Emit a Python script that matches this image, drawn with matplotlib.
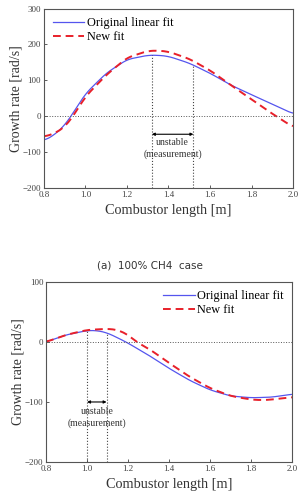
import numpy as np
import matplotlib.pyplot as plt

# datos (a) 100% CH4
x_a = [0.8, 0.85, 0.9, 0.93, 1.0, 1.1, 1.2, 1.3, 1.35, 1.4, 1.5, 1.6, 1.7, 1.8, 1.9, 2.0]
orig_a = [-68, -52, -25, 0, 63, 120, 158, 170, 170, 167, 148, 120, 87, 60, 34, 7]
x_a2 = [0.8, 0.85, 0.9, 0.94, 1.0, 1.1, 1.2, 1.3, 1.35, 1.4, 1.5, 1.6, 1.7, 1.8, 1.9, 1.92, 2.0]
new_a = [-57, -48, -30, 0, 55, 115, 163, 182, 183, 180, 160, 128, 87, 47, 7, 0, -30]
unstable_a = [1.32, 1.52]

# datos de la segunda figura
x_b = [0.8, 0.9, 1.0, 1.05, 1.1, 1.19, 1.3, 1.4, 1.5, 1.6, 1.7, 1.8, 1.9, 2.0]
orig_b = [0, 12, 19, 19, 15, 0, -22, -44, -64, -80, -90, -93, -92, -87]
x_b2 = [0.8, 0.9, 1.0, 1.1, 1.15, 1.2, 1.24, 1.3, 1.4, 1.5, 1.6, 1.7, 1.8, 1.85, 1.9, 2.0]
new_b = [0, 12, 20, 22, 20, 12, 0, -11, -35, -58, -77, -90, -96, -97, -96, -92]
unstable_b = [1.0, 1.095]

serif = 'Liberation Serif'
blue = '#5555ee'
red = '#e8202a'


def suave(x, y):
    # interpolacion lineal + media movil para suavizar la curva
    xs = np.linspace(x[0], x[-1], 300)
    ys = np.interp(xs, x, y)
    k = 15
    ker = np.ones(k) / k
    pad = np.pad(ys, k // 2, mode='edge')
    ys = np.convolve(pad, ker, mode='valid')
    return xs, ys


def panel(ax, xo, yo, xn, yn, ylim, yticks, unst, arrow_y, txt_y, loc):
    xs, ys = suave(xo, yo)
    ax.plot(xs, ys, color=blue, linewidth=0.9, label='Original linear fit')
    xs2, ys2 = suave(xn, yn)
    ax.plot(xs2, ys2, color=red, linewidth=1.4, linestyle=(0, (4, 2.5)), label='New fit')
    ax.axhline(0, color='#555555', linestyle=':', linewidth=0.7)
    for u in unst:
        top = np.interp(u, xs, ys)
        ax.plot([u, u], [ylim[0], top], color='#444444', linestyle=':', linewidth=0.8)
    ax.annotate('', xy=(unst[0], arrow_y), xytext=(unst[1], arrow_y),
                arrowprops=dict(arrowstyle='<|-|>', color='black', lw=0.8,
                                mutation_scale=4, shrinkA=0, shrinkB=0))
    xm = (unst[0] + unst[1]) / 2
    ax.text(xm, txt_y, 'unstable\n(measurement)', ha='center', va='top',
            fontsize=7, family=serif, color='#333333', linespacing=1.35)
    ax.set_xlim(0.8, 2.0)
    ax.set_ylim(*ylim)
    ax.set_xticks([0.8, 1.0, 1.2, 1.4, 1.6, 1.8, 2.0])
    ax.set_xticklabels(['0.8', '1.0', '1.2', '1.4', '1.6', '1.8', '2.0'])
    ax.set_yticks(yticks)
    ax.tick_params(direction='in', length=2.5, width=0.6, labelsize=6.5, colors='#444444', pad=2)
    for t in ax.get_xticklabels() + ax.get_yticklabels():
        t.set_family(serif)
    for s in ax.spines.values():
        s.set_color('#555555')
        s.set_linewidth(0.8)
    ax.set_xlabel('Combustor length [m]', fontsize=10.3, family=serif, color='#333333', labelpad=4)
    ax.set_ylabel('Growth rate [rad/s]', fontsize=10, family=serif, color='#333333', labelpad=0)
    ax.legend(loc=loc, frameon=False, prop={'family': serif, 'size': 8.8},
              handlelength=2.6, handletextpad=0.2, labelspacing=0.15, borderaxespad=0.3)


fig = plt.figure(figsize=(2.99, 5.03), dpi=100)
ax1 = fig.add_axes([0.147, 0.626, 0.833, 0.357])
panel(ax1, x_a, orig_a, x_a2, new_a, (-200, 300), [-200, -100, 0, 100, 200, 300],
      unstable_a, -50, -60, 'upper left')
fig.text(0.5, 0.472, '(a)  100% CH4  case', ha='center', va='center', fontsize=7.5,
         family='DejaVu Sans', color='#333333')

ax2 = fig.add_axes([0.154, 0.0815, 0.823, 0.358])
panel(ax2, x_b, orig_b, x_b2, new_b, (-200, 100), [-200, -100, 0, 100],
      unstable_b, -100, -108, 'upper right')

fig.savefig('out.png', dpi=100)
